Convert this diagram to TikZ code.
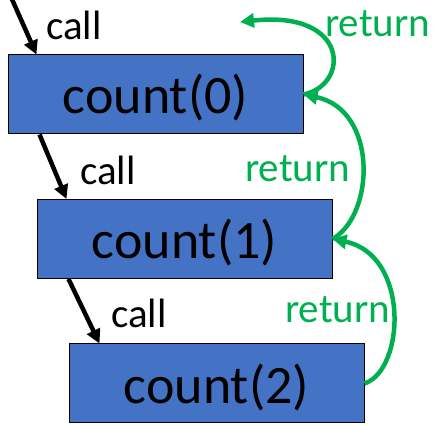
\documentclass[tikz,border=0pt]{standalone}
\usepackage{fontspec}
\setmainfont{Carlito}
\usetikzlibrary{arrows.meta,calc}
\definecolor{boxblue}{HTML}{4472C4}
\definecolor{retgreen}{HTML}{00B050}
\begin{document}
\begin{tikzpicture}[x=1pt,y=-1pt,
  fbox/.style={draw=black,line width=1pt,fill=boxblue,minimum width=295pt,minimum height=79pt,
    inner sep=0pt,font=\fontsize{54}{60}\selectfont,text height=42pt,text depth=3pt},
  lbl/.style={inner sep=0pt,anchor=base west,font=\fontsize{41}{48}\selectfont},
  callarrow/.style={line width=4.5pt,-{Triangle[length=14pt,width=14pt]}},
  retarrow/.style={line width=4.5pt,retgreen,-{Triangle[length=14pt,width=14pt]}}]
\useasboundingbox (0,0) rectangle (440,433);
\node[fbox] (b0) at (155.5,94.5) {count(0)};
\node[fbox] (b1) at (184.5,239) {count(1)};
\node[fbox] (b2) at (216.5,383.5) {count(2)};
\coordinate (top) at (11,-3);
\coordinate (caller) at (240,22);
\draw[callarrow] (top) -- ($(b0.north west)+(29,0)$);
\draw[callarrow] ($(b0.south west)+(32,0)$) -- ($(b1.north west)+(30,0)$);
\draw[callarrow] ($(b1.south west)+(32,0)$) -- ($(b2.north west)+(31,0)$);
\draw[retarrow] (b0.east) .. controls (350,85) and (350,10) .. (caller);
\draw[retarrow] (b1.east) .. controls (375,215) and (378,110) .. (b0.east);
\draw[retarrow] (b2.east) .. controls (405,370) and (410,255) .. (b1.east);
\node[lbl] (c1) at (46,40) {call};
\node[lbl] (c2) at (80,185) {call};
\node[lbl] (c3) at (111,328) {call};
\node[lbl,text=retgreen] (r1) at (325,37) {return};
\node[lbl,text=retgreen] (r2) at (245,182) {return};
\node[lbl,text=retgreen] (r3) at (285,323) {return};
\end{tikzpicture}
\end{document}
